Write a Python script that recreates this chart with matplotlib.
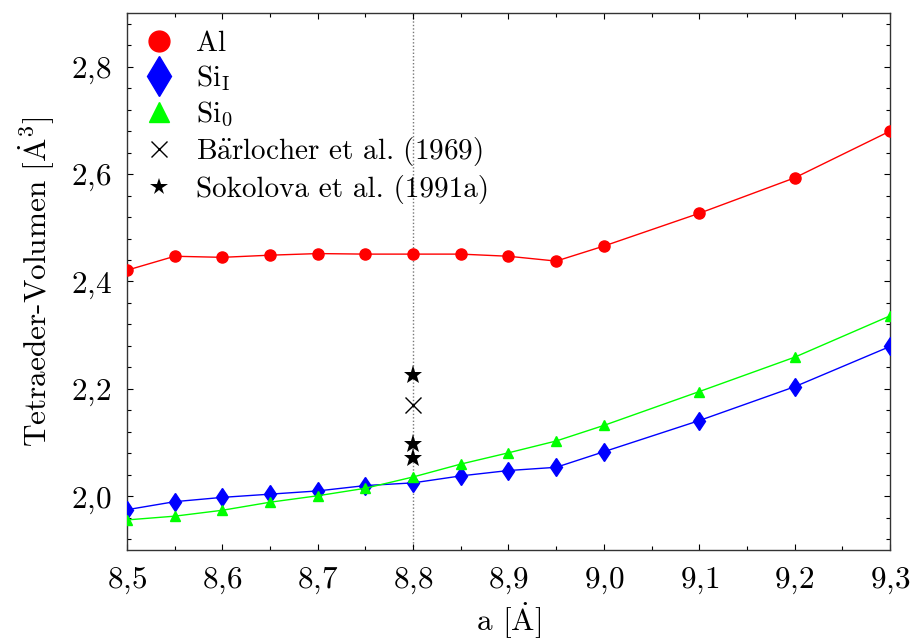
import matplotlib
matplotlib.use("Agg")
import matplotlib.pyplot as plt
from matplotlib.lines import Line2D
from matplotlib.ticker import MultipleLocator, FuncFormatter

plt.rcParams['font.family'] = 'serif'
plt.rcParams['font.serif'] = ['cmr10']
plt.rcParams['mathtext.fontset'] = 'cm'
plt.rcParams['axes.formatter.use_mathtext'] = True

# data
a_vals = [8.5, 8.55, 8.6, 8.65, 8.7, 8.75, 8.8, 8.85, 8.9, 8.95, 9.0, 9.1, 9.2, 9.3]
al_vol = [2.421, 2.447, 2.445, 2.449, 2.452, 2.451, 2.451, 2.451, 2.447, 2.438, 2.466, 2.527, 2.593, 2.680]
si1_vol = [1.975, 1.990, 1.998, 2.004, 2.010, 2.020, 2.025, 2.038, 2.048, 2.054, 2.083, 2.141, 2.204, 2.279]
si0_vol = [1.956, 1.963, 1.974, 1.989, 2.001, 2.015, 2.036, 2.060, 2.081, 2.103, 2.132, 2.195, 2.259, 2.336]
baer_a = [8.8]
baer_vol = [2.170]
soko_a = [8.8, 8.8, 8.8]
soko_vol = [2.225, 2.098, 2.072]
ref_a = 8.8

W, H = 912, 641
fig = plt.figure(figsize=(W/100, H/100), dpi=100)
ax = fig.add_axes([127/W, 1-550/H, (890-127)/W, (550-13)/H])

ax.axvline(ref_a, color='#777777', lw=1.0, ls=(0, (1, 1.5)), zorder=1)

ax.plot(a_vals, al_vol, color='red', lw=1.0, marker='o', ms=8, mec='red', mfc='red', zorder=3)
ax.plot(a_vals, si1_vol, color='blue', lw=1.0, marker='d', ms=9.5, mec='blue', mfc='blue', zorder=3)
ax.plot(a_vals, si0_vol, color='#00ff00', lw=1.0, marker='^', ms=7, mec='#00ff00', mfc='#00ff00', zorder=3)
ax.plot(baer_a, baer_vol, ls='none', marker='x', ms=12, mew=1.0, color='black', zorder=4)
ax.plot(soko_a, soko_vol, ls='none', marker='*', ms=14, mew=0, color='black', zorder=4)

ax.set_xlim(8.5, 9.3)
ax.set_ylim(1.9, 2.9)
ax.xaxis.set_major_locator(MultipleLocator(0.1))
ax.xaxis.set_minor_locator(MultipleLocator(0.05))
ax.yaxis.set_major_locator(MultipleLocator(0.2))
ax.yaxis.set_minor_locator(MultipleLocator(0.04))

def fmt(v, pos):
    s = "%.1f" % v
    return "$" + s.replace(".", "{,}") + "$"

ax.xaxis.set_major_formatter(FuncFormatter(fmt))
ax.yaxis.set_major_formatter(FuncFormatter(fmt))

ax.tick_params(which='both', direction='in', top=True, right=True, labelsize=22.5)
ax.tick_params(which='major', length=4.5, width=0.8)
ax.tick_params(which='minor', length=3, width=0.8)
ax.tick_params(axis='x', which='major', pad=11)
ax.tick_params(axis='y', which='major', pad=11)
for sp in ax.spines.values():
    sp.set_linewidth(1.0)
    sp.set_color('#333333')

ax.set_xlabel(r"a $[\dot{\mathrm{A}}]$", fontsize=22.5, labelpad=3)
ax.set_ylabel(r"Tetraeder-Volumen $[\dot{\mathrm{A}}^3]$", fontsize=22.5, labelpad=10)

handles = [
    Line2D([], [], ls='none', marker='o', ms=15, color='red'),
    Line2D([], [], ls='none', marker='d', ms=20, color='blue'),
    Line2D([], [], ls='none', marker='^', ms=14, color='#00ff00'),
    Line2D([], [], ls='none', marker='x', ms=11, mew=1.0, color='black'),
    Line2D([], [], ls='none', marker='*', ms=13, mew=0, color='black'),
]
labels = ["Al", r"Si$_{\mathrm{I}}$", r"Si$_0$", r"B$\ddot{\mathrm{a}}$rlocher et al. (1969)", "Sokolova et al. (1991a)"]
ax.legend(handles, labels, loc='upper left', frameon=False, fontsize=21,
          handlelength=1.0, handletextpad=0.75, labelspacing=0.22,
          borderaxespad=0.2, bbox_to_anchor=(0.0, 1.0))

fig.savefig("out.png", dpi=100)
